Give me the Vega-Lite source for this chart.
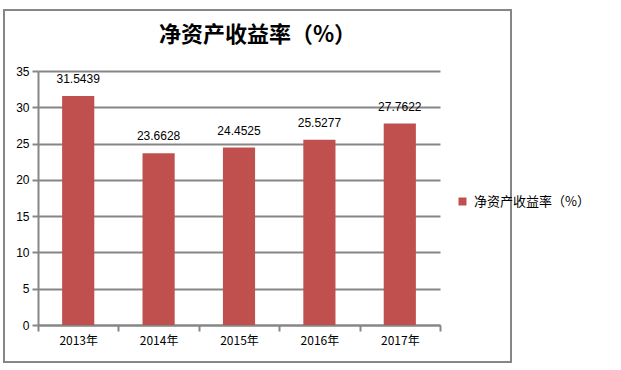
{
  "$schema": "https://vega.github.io/schema/vega-lite/v6.json",
  "width": 507,
  "height": 352,
  "autosize": {"type": "none"},
  "padding": {"left": 4, "top": 10, "right": 110, "bottom": 8},
  "background": "white",
  "title": {
    "text": "净资产收益率（%）",
    "font": "Noto Sans CJK SC",
    "fontSize": 22,
    "fontWeight": "bold",
    "color": "#000000",
    "anchor": "middle",
    "baseline": "bottom",
    "offset": -59
  },
  "data": {
    "values": [
      {"year": "2013年", "value": 31.5439},
      {"year": "2014年", "value": 23.6628},
      {"year": "2015年", "value": 24.4525},
      {"year": "2016年", "value": 25.5277},
      {"year": "2017年", "value": 27.7622}
    ]
  },
  "encoding": {
    "x": {
      "field": "year",
      "type": "nominal",
      "sort": null,
      "scale": {"range": [34, 436], "paddingInner": 0, "paddingOuter": 0},
      "axis": {
        "title": null,
        "labelAngle": 0,
        "offset": -37,
        "tickBand": "extent",
        "tickSize": 6,
        "labelPadding": 4,
        "labelFont": "Noto Sans CJK SC",
        "labelFontSize": 12,
        "grid": false
      }
    },
    "y": {
      "field": "value",
      "type": "quantitative",
      "scale": {"domain": [0, 35], "range": [315, 61], "nice": false, "zero": true},
      "axis": {
        "title": null,
        "offset": -34,
        "values": [0, 5, 10, 15, 20, 25, 30, 35],
        "tickSize": 6,
        "labelPadding": 3,
        "labelFont": "Liberation Sans",
        "labelFontSize": 12,
        "grid": true
      }
    }
  },
  "layer": [
    {
      "mark": {"type": "bar", "width": {"band": 0.4}},
      "encoding": {
        "color": {
          "datum": "净资产收益率（%）",
          "type": "nominal",
          "scale": {"range": ["#C0504D"]},
          "legend": {
            "title": null,
            "orient": "none",
            "legendX": 452,
            "legendY": 185,
            "symbolType": "square",
            "symbolSize": 64,
            "symbolStrokeWidth": 0,
            "labelFont": "Noto Sans CJK SC",
            "labelFontSize": 13,
            "labelColor": "#000000",
            "labelOffset": 5
          }
        }
      }
    },
    {
      "mark": {
        "type": "text",
        "dy": -17,
        "font": "Liberation Sans",
        "fontSize": 12,
        "color": "#000000"
      },
      "encoding": {
        "text": {"field": "value", "type": "quantitative", "format": ".4f"}
      }
    }
  ],
  "config": {
    "view": {"stroke": "#868686", "strokeWidth": 2},
    "axis": {
      "domainColor": "#868686",
      "domainWidth": 2,
      "tickColor": "#868686",
      "tickWidth": 2,
      "gridColor": "#868686",
      "gridWidth": 2,
      "labelColor": "#000000"
    }
  }
}
